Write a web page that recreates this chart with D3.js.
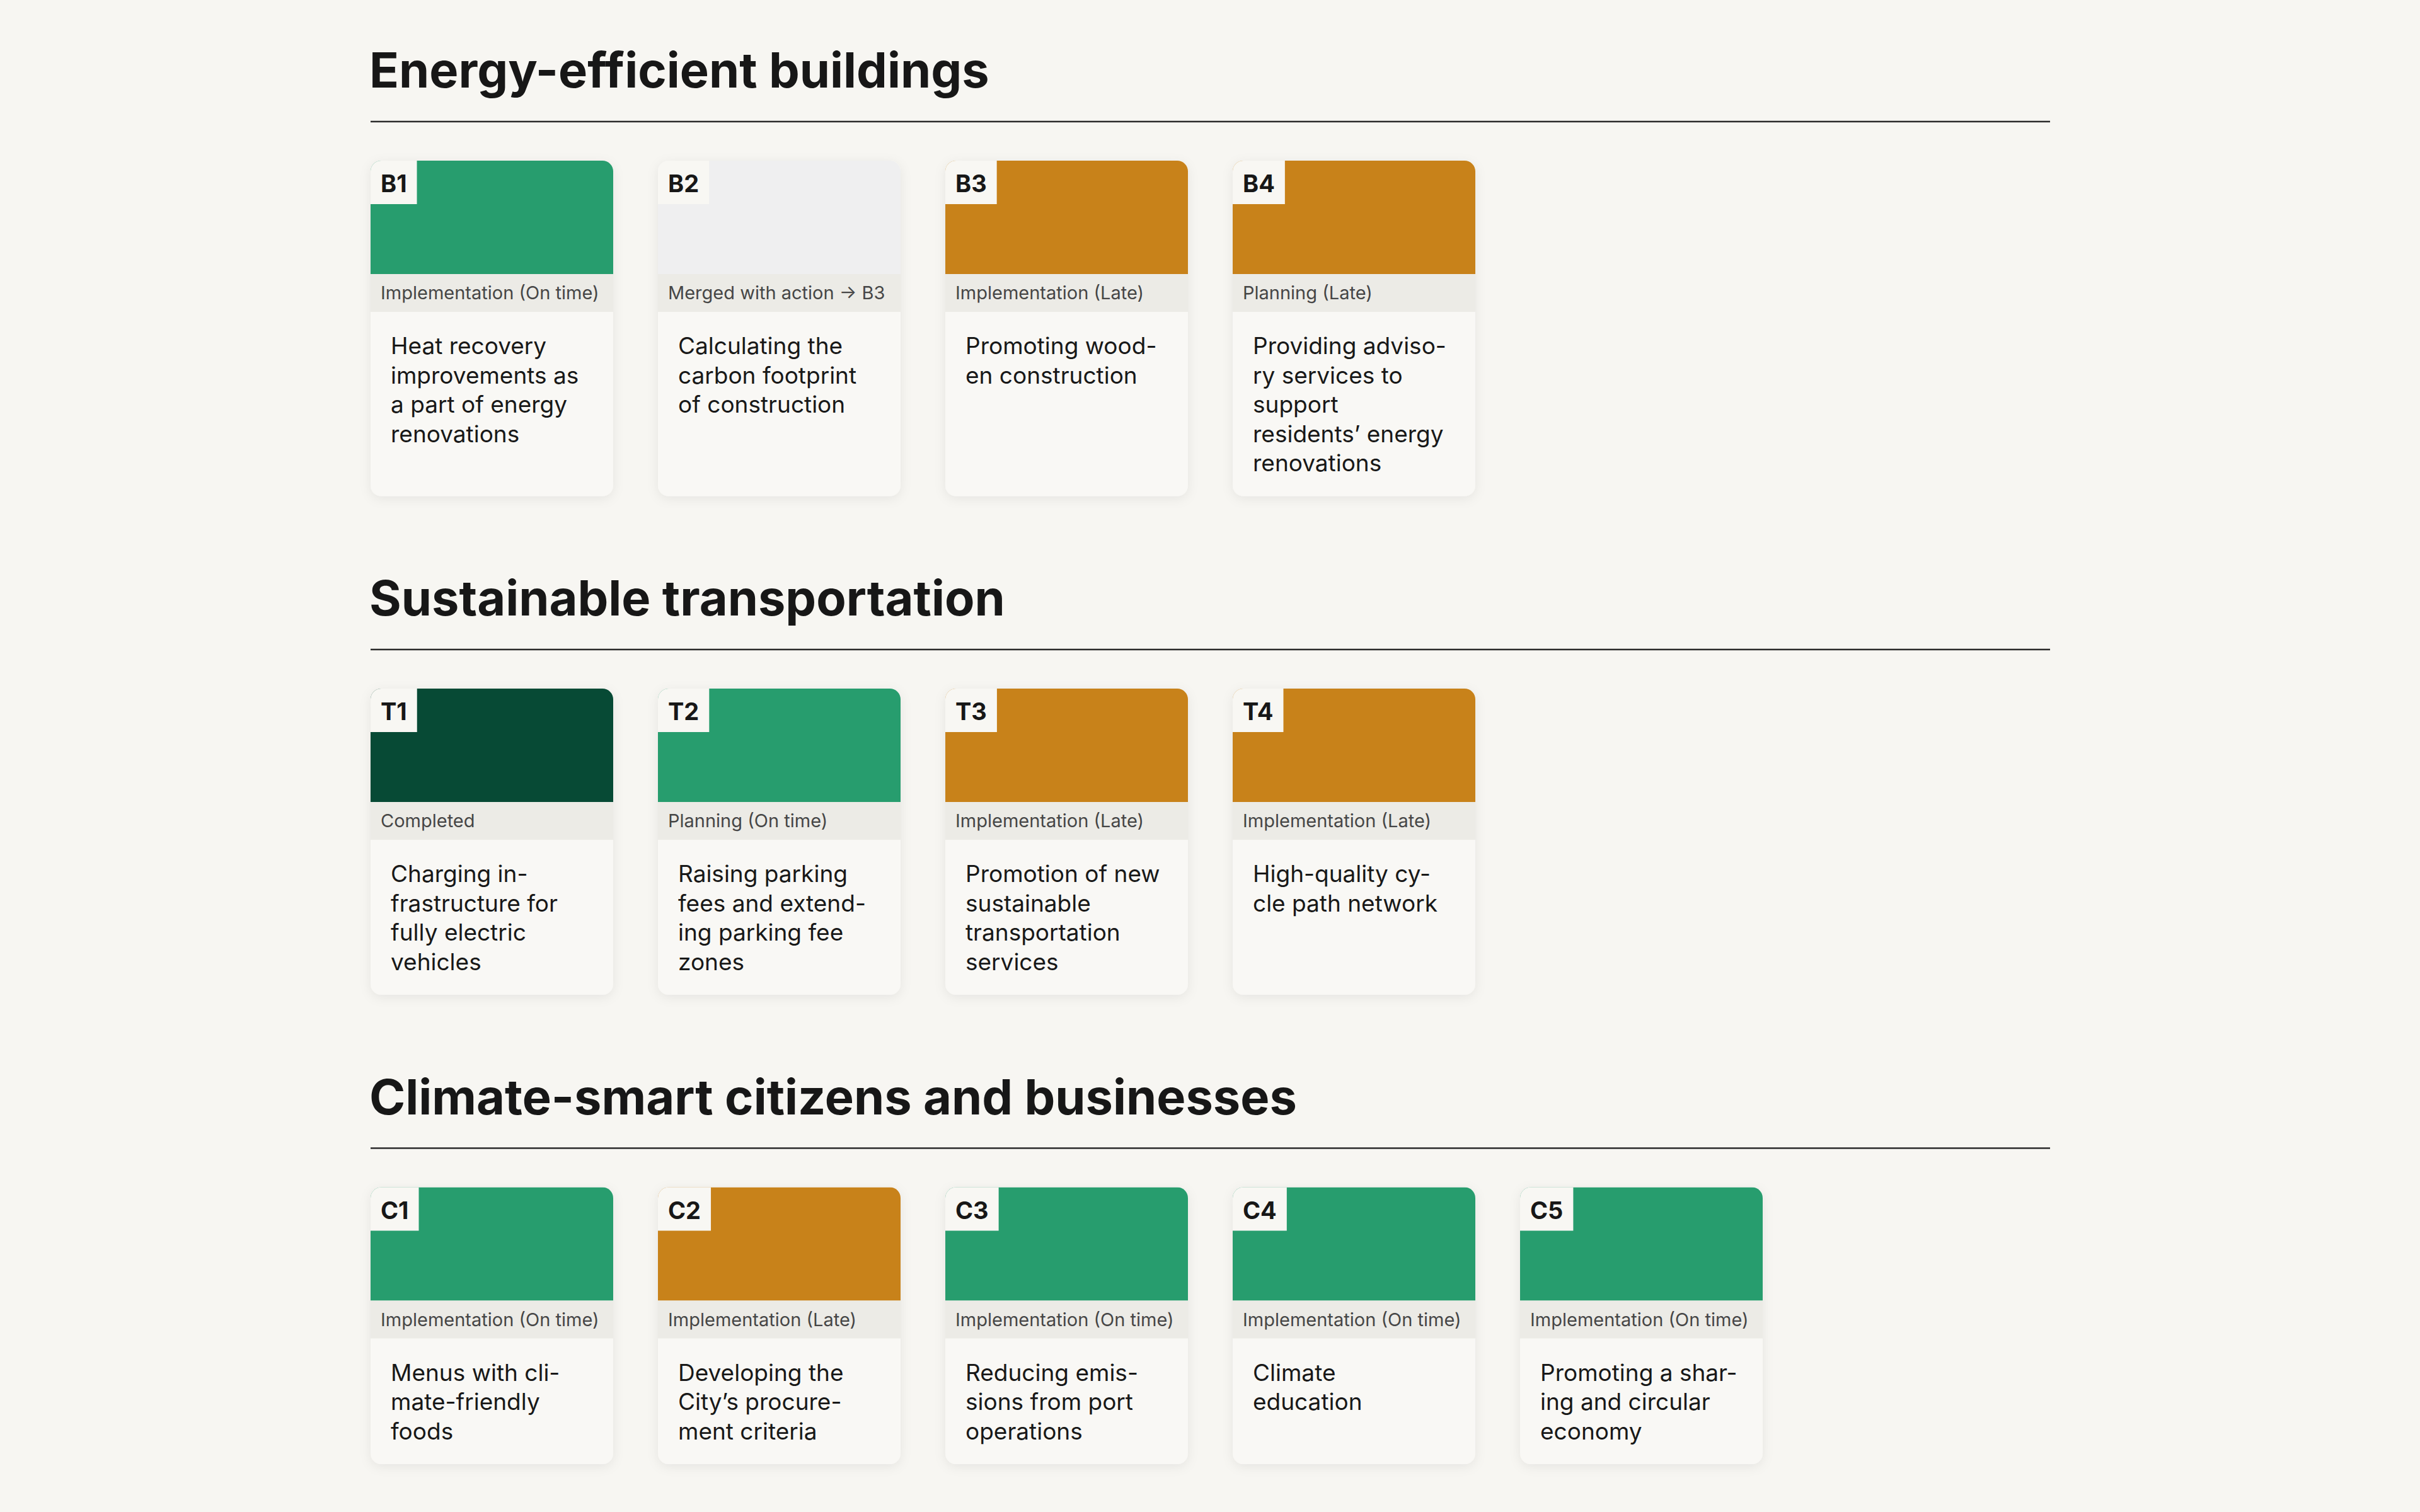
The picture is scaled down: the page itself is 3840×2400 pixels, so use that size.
<!DOCTYPE html>
<html>
<head>
<meta charset="utf-8">
<script src="https://cdn.jsdelivr.net/npm/d3@7"></script>
<style>
  html, body { margin: 0; padding: 0; background: #f7f6f2; }
  svg { display: block; font-family: Inter, "Noto Sans", sans-serif; }
</style>
</head>
<body>
<svg id="chart"></svg>
<script>
// section headings
var sectionTitles = ["Energy-efficient buildings", "Sustainable transportation", "Climate-smart citizens and businesses"];

// one list per section
var actionIds = [
  ["B1", "B2", "B3", "B4"],
  ["T1", "T2", "T3", "T4"],
  ["C1", "C2", "C3", "C4", "C5"]
];

var actionStatus = [
  ["Implementation (On time)", "Merged with action \u2192 B3", "Implementation (Late)", "Planning (Late)"],
  ["Completed", "Planning (On time)", "Implementation (Late)", "Implementation (Late)"],
  ["Implementation (On time)", "Implementation (Late)", "Implementation (On time)", "Implementation (On time)", "Implementation (On time)"]
];

var actionPhase = [
  ["onTime", "merged", "late", "late"],
  ["completed", "onTime", "late", "late"],
  ["onTime", "late", "onTime", "onTime", "onTime"]
];

// titles with the line breaks / hyphenation shown on the cards
var actionTitles = [
  [["Heat recovery", "improvements as", "a part of energy", "renovations"],
   ["Calculating the", "carbon footprint", "of construction"],
   ["Promoting wood-", "en construction"],
   ["Providing adviso-", "ry services to", "support", "residents\u2019 energy", "renovations"]],
  [["Charging in-", "frastructure for", "fully electric", "vehicles"],
   ["Raising parking", "fees and extend-", "ing parking fee", "zones"],
   ["Promotion of new", "sustainable", "transportation", "services"],
   ["High-quality cy-", "cle path network"]],
  [["Menus with cli-", "mate-friendly", "foods"],
   ["Developing the", "City\u2019s procure-", "ment criteria"],
   ["Reducing emis-", "sions from port", "operations"],
   ["Climate", "education"],
   ["Promoting a shar-", "ing and circular", "economy"]]
];

var phases = ["onTime", "late", "completed", "merged"];
var phaseColors = ["#279d6e", "#c8821a", "#074a35", "#efeff0"];

var W = 3840, H = 2400;
var left = 588, right = 3253;
var cardW = 385, pitch = 456;
var blockH = 180, bandH = 60, lineH = 46.5, padY = 30;

var color = d3.scaleOrdinal().domain(phases).range(phaseColors);
var x = d3.scaleLinear().domain([0, 1]).range([left, left + pitch]);

var svg = d3.select("#chart").attr("width", W).attr("height", H).attr("viewBox", "0 0 " + W + " " + H);
svg.append("rect").attr("width", W).attr("height", H).attr("fill", "#f7f6f2");

var defs = svg.append("defs");
var shadow = defs.append("filter").attr("id", "shadow")
  .attr("x", "-20%").attr("y", "-20%").attr("width", "140%").attr("height", "140%");
shadow.append("feDropShadow").attr("dx", 0).attr("dy", 4).attr("stdDeviation", 9)
  .attr("flood-color", "#000").attr("flood-opacity", 0.07);

var ruleY = 193;
sectionTitles.forEach(function(title, s) {
  var g = svg.append("g");
  g.append("text")
    .attr("x", left - 2).attr("y", ruleY - 54)
    .attr("font-size", 77.5).attr("font-weight", 700).attr("fill", "#171717")
    .text(title);
  g.append("line")
    .attr("x1", left).attr("x2", right).attr("y1", ruleY).attr("y2", ruleY)
    .attr("stroke", "#2b2b2b").attr("stroke-width", 2.6);

  var top = ruleY + 62;
  var maxLines = d3.max(actionTitles[s], function(d) { return d.length; });
  var cardH = blockH + bandH + padY * 2 + maxLines * lineH;

  var cards = actionIds[s].map(function(id, i) {
    return { id: id, i: i, s: s, status: actionStatus[s][i], phase: actionPhase[s][i], lines: actionTitles[s][i] };
  });

  var card = g.selectAll("g.card").data(cards).join("g")
    .attr("class", "card")
    .attr("transform", function(d) { return "translate(" + x(d.i) + "," + top + ")"; });

  card.append("clipPath").attr("id", function(d) { return "clip-" + d.id; })
    .append("rect").attr("width", cardW).attr("height", cardH).attr("rx", 17);

  card.append("rect").attr("width", cardW).attr("height", cardH).attr("rx", 17)
    .attr("fill", "#f9f8f5").attr("filter", "url(#shadow)");

  var inner = card.append("g").attr("clip-path", function(d) { return "url(#clip-" + d.id + ")"; });
  inner.append("rect").attr("width", cardW).attr("height", blockH)
    .attr("fill", function(d) { return color(d.phase); });
  inner.append("rect").attr("y", blockH).attr("width", cardW).attr("height", bandH).attr("fill", "#ecebe6");
  inner.append("text")
    .attr("x", 16).attr("y", blockH + 40)
    .attr("font-size", 29).attr("fill", "#464646")
    .text(function(d) { return d.status; });

  // id tag in the top-left corner
  var tag = inner.append("g");
  tag.append("text")
    .attr("x", 16).attr("y", 50)
    .attr("font-size", 38).attr("font-weight", 700).attr("fill", "#171717")
    .text(function(d) { return d.id; });
  tag.insert("rect", "text").attr("height", 69).attr("fill", "#f8f7f3")
    .attr("width", function() { return this.parentNode.querySelector("text").getComputedTextLength() + 32; });

  card.append("text")
    .attr("font-size", 37).attr("fill", "#181818")
    .selectAll("tspan").data(function(d) { return d.lines; }).join("tspan")
    .attr("x", 32)
    .attr("y", function(d, k) { return blockH + bandH + 67 + k * lineH; })
    .text(function(d) { return d; });

  ruleY = top + cardH + 243.5;
});
</script>
</body>
</html>
